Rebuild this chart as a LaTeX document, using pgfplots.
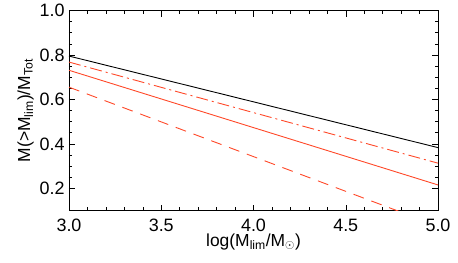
\documentclass[border=0pt]{standalone}
\usepackage{fontspec}
\setmainfont{Liberation Sans}
\usepackage{pgfplots}
\pgfplotsset{compat=1.18}
\definecolor{idlred}{RGB}{255,72,40}
\begin{document}
\begin{tikzpicture}
\path[use as bounding box] (-69bp,-52.5bp) rectangle (389bp,210.5bp);
\begin{axis}[
  at={(0,0)}, anchor=south west,
  scale only axis, width=369bp, height=200bp,
  xmin=3.0, xmax=5.0, ymin=0.1, ymax=1.0,
  xtick={3.0,3.5,4.0,4.5,5.0},
  ytick={0.2,0.4,0.6,0.8,1.0},
  minor x tick num=4, minor y tick num=3,
  tick align=inside, ticks=both,
  xtick pos=both, ytick pos=both,
  major tick length=6bp, minor tick length=3.5bp,
  tick style={black, line width=0.5pt},
  axis line style={line width=0.6pt},
  /pgf/number format/assume math mode=true,
  /pgf/number format/fixed, /pgf/number format/fixed zerofill, /pgf/number format/precision=1,
  tick label style={font=\fontsize{18}{18}\selectfont},
  label style={font=\fontsize{17.5}{17.5}\selectfont},
  xticklabel style={yshift=-5bp},
  yticklabel style={xshift=-1bp},
  xlabel={log(M\textsubscript{lim}/M$_\odot$)},
  ylabel={M(>M\textsubscript{lim})/M\textsubscript{Tot}},
  xlabel style={yshift=5bp},
  ylabel style={yshift=-1bp},
  clip=true,
]
\addplot[black, line width=0.9pt] coordinates {(3.0,0.795) (5.0,0.383)};
\addplot[idlred, line width=0.9pt, dash pattern=on 12bp off 4bp on 2bp off 4bp] coordinates {(3.0,0.768) (5.0,0.313)};
\addplot[idlred, line width=0.9pt] coordinates {(3.0,0.731) (5.0,0.215)};
\addplot[idlred, line width=0.9pt, dash pattern=on 11bp off 8bp] coordinates {(3.0,0.655) (5.0,0.03)};
\end{axis}
\end{tikzpicture}
\end{document}
